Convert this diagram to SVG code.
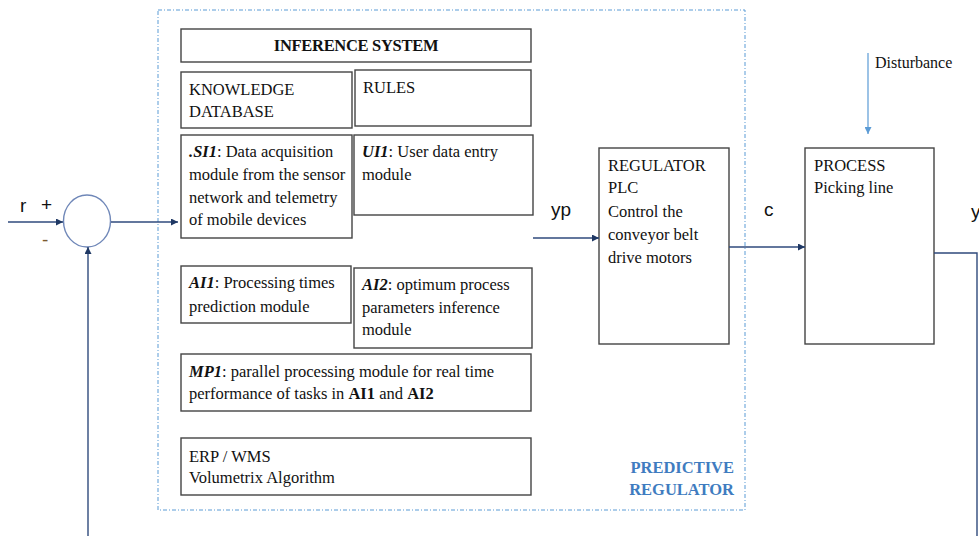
<svg xmlns="http://www.w3.org/2000/svg" width="979" height="536" viewBox="0 0 979 536">
<style>
.box{fill:#fff;stroke:#444;stroke-width:1.4}
.t{font-family:"Liberation Serif","Times New Roman",serif;font-size:16.5px;fill:#111}
.b{font-weight:bold}
.bi{font-weight:bold;font-style:italic}
.s{font-family:"Liberation Sans",Arial,sans-serif;font-size:19px;fill:#111}
.c{stroke:#2f4a7c;stroke-width:1.4;fill:none}
</style>
<defs>
<marker id="ah" viewBox="0 0 10 10" refX="10" refY="5" markerWidth="7" markerHeight="7" orient="auto" markerUnits="userSpaceOnUse"><path d="M0,0 L10,5 L0,10 z" fill="#1f3864"/></marker>
<marker id="ahl" viewBox="0 0 10 10" refX="10" refY="5" markerWidth="7" markerHeight="7" orient="auto" markerUnits="userSpaceOnUse"><path d="M0,0 L10,5 L0,10 z" fill="#5b9bd5"/></marker>
</defs>
<rect id="predictive-regulator" x="158" y="10" width="587" height="500" fill="none" stroke="#5b9bd5" stroke-width="1" stroke-dasharray="4,2,1,2"/>
<text class="t b" x="734" y="473" text-anchor="end" style="fill:#3f7cc0">PREDICTIVE</text>
<text class="t b" x="734" y="495" text-anchor="end" style="fill:#3f7cc0">REGULATOR</text>
<g id="sum">
<ellipse cx="87" cy="221" rx="23.5" ry="26" fill="#fff" stroke="#6f87b8" stroke-width="1.4"/>
</g>
<g id="inference">
<rect class="box" x="181" y="29" width="350" height="33"/>
<text class="t b" x="356" y="51" text-anchor="middle" letter-spacing="-0.3">INFERENCE SYSTEM</text>
</g>
<g id="knowledge">
<rect class="box" x="181" y="72" width="171" height="56"/>
<text class="t" x="189" y="95">KNOWLEDGE</text>
<text class="t" x="189" y="117">DATABASE</text>
</g>
<g id="rules">
<rect class="box" x="355" y="70" width="176" height="56"/>
<text class="t" x="363" y="93">RULES</text>
</g>
<g id="si1">
<rect class="box" x="181" y="135" width="171" height="103"/>
<text class="t" x="189" y="157"><tspan class="bi">.SI1</tspan>: Data acquisition</text>
<text class="t" x="189" y="180">module from the sensor</text>
<text class="t" x="189" y="203">network and telemetry</text>
<text class="t" x="189" y="225">of mobile devices</text>
</g>
<g id="ui1">
<rect class="box" x="354" y="135" width="179" height="80"/>
<text class="t" x="362" y="157"><tspan class="bi">UI1</tspan>: User data entry</text>
<text class="t" x="362" y="180">module</text>
</g>
<g id="ai1">
<rect class="box" x="181" y="266" width="170" height="57"/>
<text class="t" x="189" y="288"><tspan class="bi">AI1</tspan>: Processing times</text>
<text class="t" x="189" y="312">prediction module</text>
</g>
<g id="ai2">
<rect class="box" x="354" y="268" width="178" height="80"/>
<text class="t" x="362" y="290"><tspan class="bi">AI2</tspan>: optimum process</text>
<text class="t" x="362" y="313">parameters inference</text>
<text class="t" x="362" y="335">module</text>
</g>
<g id="mp1">
<rect class="box" x="181" y="354" width="350" height="57"/>
<text class="t" x="189" y="377"><tspan class="bi">MP1</tspan>: parallel  processing module  for real  time</text>
<text class="t" x="189" y="399">performance of tasks in <tspan class="b">AI1</tspan> and <tspan class="b">AI2</tspan></text>
</g>
<g id="erp">
<rect class="box" x="181" y="438" width="350" height="57"/>
<text class="t" x="189" y="462">ERP / WMS</text>
<text class="t" x="189" y="483">Volumetrix  Algorithm</text>
</g>
<g id="regulator">
<rect class="box" x="599" y="148" width="130" height="196"/>
<text class="t" x="608" y="171">REGULATOR</text>
<text class="t" x="608" y="193">PLC</text>
<text class="t" x="608" y="217">Control the</text>
<text class="t" x="608" y="240">conveyor belt</text>
<text class="t" x="608" y="263">drive motors</text>
</g>
<g id="process">
<rect class="box" x="805" y="148" width="129" height="196"/>
<text class="t" x="814" y="171">PROCESS</text>
<text class="t" x="814" y="193">Picking line</text>
</g>
<g id="connectors">
<line class="c" x1="8" y1="222" x2="63" y2="222" marker-end="url(#ah)"/>
<line class="c" x1="111" y1="222" x2="178" y2="222" marker-end="url(#ah)"/>
<line class="c" x1="88" y1="536" x2="88" y2="247" marker-end="url(#ah)"/>
<line class="c" x1="533" y1="238" x2="599" y2="238" marker-end="url(#ah)"/>
<line class="c" x1="729" y1="247" x2="805" y2="247" marker-end="url(#ah)"/>
<line x1="868" y1="53" x2="868" y2="134" stroke="#5b9bd5" stroke-width="1.2" marker-end="url(#ahl)"/>
<polyline class="c" points="934,253 977,253 977,536"/>
</g>
<g id="labels">
<text class="s" x="20" y="212">r</text>
<text class="s" x="41" y="211">+</text>
<text class="s" x="42" y="246" style="fill:#7a5a30">-</text>
<text class="s" x="551" y="216">yp</text>
<text class="s" x="764" y="216">c</text>
<text class="s" x="971" y="218">y</text>
<text class="t" x="875" y="68" style="font-size:16px">Disturbance</text>
</g>
</svg>
